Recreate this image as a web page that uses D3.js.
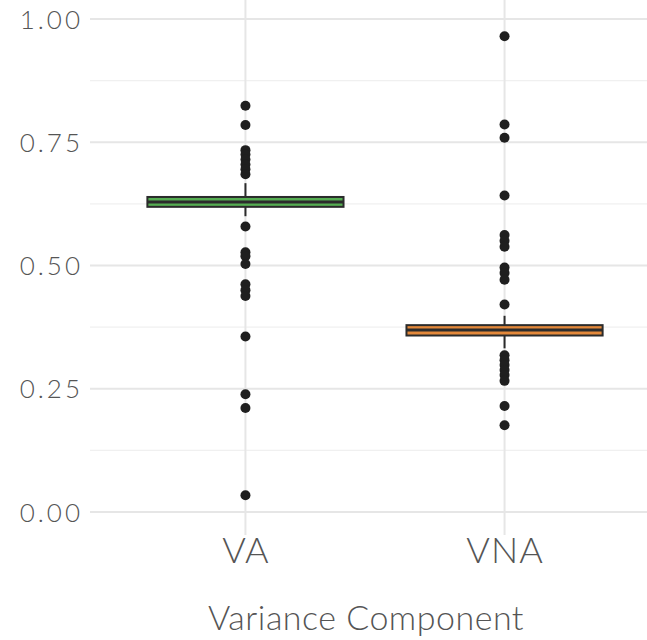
<!DOCTYPE html>
<html>
<head>
<meta charset="utf-8">
<script src="https://cdn.jsdelivr.net/npm/d3@7"></script>
<style>
  html, body { margin: 0; padding: 0; background: #fff; }
  text { font-family: Lato, "Noto Sans", sans-serif; fill: #555; font-weight: 300; }
</style>
</head>
<body>
<svg id="chart" width="647" height="640"></svg>
<script>
// Variance components: box summaries and outlying draws
const categories = ["VA", "VNA"];
const boxFill = ["#55ad52", "#e3883a"];
const boxStats = [
  { cat: "VA",  lower: 0.600, q1: 0.619, median: 0.629, q3: 0.639, upper: 0.667 },
  { cat: "VNA", lower: 0.332, q1: 0.358, median: 0.369, q3: 0.379, upper: 0.398 }
];
const outliersVA = [0.824, 0.785, 0.734, 0.725, 0.715, 0.705, 0.695, 0.685,
  0.579, 0.527, 0.519, 0.503, 0.462, 0.450, 0.438, 0.356, 0.239, 0.211, 0.034];
const outliersVNA = [0.965, 0.786, 0.759, 0.642, 0.562, 0.550, 0.538, 0.496,
  0.485, 0.471, 0.421, 0.318, 0.308, 0.298, 0.288, 0.278, 0.266, 0.215, 0.176];
const yTicks = [0, 0.25, 0.5, 0.75, 1];
const yMinor = [0.125, 0.375, 0.625, 0.875];
const xTitle = "Variance Component";

const svg = d3.select("#chart");
const panel = { left: 90, right: 660, top: 0, bottom: 535 };

const y = d3.scaleLinear().domain([0, 1]).range([512, 19]);
const x = d3.scalePoint().domain(categories).range([panel.left, panel.right]).padding(0.6);
const boxW = x.step() * 0.757;

const grid = svg.append("g");
grid.selectAll("line.minor").data(yMinor).join("line")
  .attr("x1", panel.left).attr("x2", 647)
  .attr("y1", d => y(d)).attr("y2", d => y(d))
  .attr("stroke", "#f0f0f0").attr("stroke-width", 1.2);
grid.selectAll("line.major").data(yTicks).join("line")
  .attr("x1", panel.left).attr("x2", 647)
  .attr("y1", d => y(d)).attr("y2", d => y(d))
  .attr("stroke", "#e6e6e6").attr("stroke-width", 2);
grid.selectAll("line.vmajor").data(categories).join("line")
  .attr("x1", d => x(d)).attr("x2", d => x(d))
  .attr("y1", panel.top).attr("y2", panel.bottom)
  .attr("stroke", "#e6e6e6").attr("stroke-width", 2);

// y axis labels
const yAxis = d3.axisLeft(y).tickValues(yTicks).tickFormat(d3.format(".2f")).tickSize(0).tickPadding(0);
const gy = svg.append("g").attr("transform", "translate(83,0)").call(yAxis);
gy.select(".domain").remove();
gy.selectAll("text").attr("font-size", 26).attr("fill", "#555")
  .attr("letter-spacing", 3).attr("dy", "0.35em")
  .style("font-family", "Lato, 'Noto Sans', sans-serif").style("font-weight", 300);

// x axis labels
const xAxis = d3.axisBottom(x).tickSize(0).tickPadding(0);
const gx = svg.append("g").attr("transform", "translate(0,536)").call(xAxis);
gx.select(".domain").remove();
gx.selectAll("text").attr("font-size", 36).attr("fill", "#555")
  .attr("letter-spacing", 1).attr("dy", "0.75em")
  .style("font-family", "Lato, 'Noto Sans', sans-serif").style("font-weight", 300);

svg.append("text")
  .attr("x", 366).attr("y", 630)
  .attr("text-anchor", "middle").attr("font-size", 34)
  .attr("letter-spacing", 0.5)
  .text(xTitle);

// boxes
const boxes = svg.append("g");
boxStats.forEach((b, i) => {
  const cx = x(b.cat);
  const g = boxes.append("g");
  g.append("line").attr("x1", cx).attr("x2", cx)
    .attr("y1", y(b.upper)).attr("y2", y(b.q3))
    .attr("stroke", "#2b2b2b").attr("stroke-width", 2);
  g.append("line").attr("x1", cx).attr("x2", cx)
    .attr("y1", y(b.q1)).attr("y2", y(b.lower))
    .attr("stroke", "#2b2b2b").attr("stroke-width", 2);
  g.append("rect")
    .attr("x", cx - boxW / 2).attr("width", boxW)
    .attr("y", y(b.q3)).attr("height", y(b.q1) - y(b.q3))
    .attr("fill", boxFill[i]).attr("stroke", "#2b2b2b").attr("stroke-width", 2);
  g.append("line")
    .attr("x1", cx - boxW / 2).attr("x2", cx + boxW / 2)
    .attr("y1", y(b.median)).attr("y2", y(b.median))
    .attr("stroke", "#2b2b2b").attr("stroke-width", 3);
});

// outlying points
const pts = svg.append("g");
[[categories[0], outliersVA], [categories[1], outliersVNA]].forEach(([cat, vals]) => {
  pts.selectAll(null).data(vals).join("circle")
    .attr("cx", x(cat)).attr("cy", d => y(d)).attr("r", 5)
    .attr("fill", "#1f1f1f");
});
</script>
</body>
</html>
